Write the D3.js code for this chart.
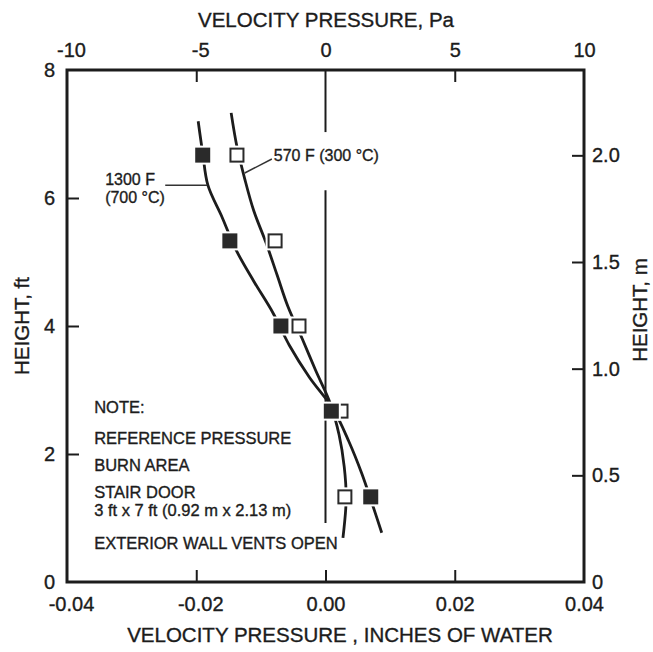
<!DOCTYPE html>
<html>
<head>
<meta charset="utf-8">
<script src="https://cdn.jsdelivr.net/npm/d3@7"></script>
<style>
  html, body { margin: 0; padding: 0; background: #ffffff; }
  svg { display: block; }
  text { font-family: "Liberation Sans", Arial, Helvetica, sans-serif; fill: #1c1c1c; stroke: #1c1c1c; stroke-width: 0.35px; }
</style>
</head>
<body>
<svg id="chart" width="653" height="652"></svg>
<script>
// ---------- data ----------
const heightsFt = [6.67, 5.33, 4.0, 2.67, 1.33];
const vp1300 = [-0.0190, -0.0148, -0.0069, 0.0009, 0.0070];   // filled squares, in. of water
const vp570  = [-0.0137, -0.0078, -0.0041, 0.0024, 0.0030];   // open squares, in. of water

// fitted curves
const fitH1300 = [7.2, 6.7, 6.2, 5.7, 5.2, 4.7, 4.2, 3.7, 3.2, 2.7, 2.2, 1.7, 1.2, 0.77];
const fitV1300 = [-0.0197, -0.0190, -0.0182, -0.0160, -0.0139, -0.0111, -0.0081, -0.0056, -0.0025, 0.0012, 0.0036, 0.0056, 0.0073, 0.0087];
const fitH570  = [7.33, 6.8, 6.3, 5.8, 5.3, 4.8, 4.3, 3.8, 3.3, 2.8, 2.3, 1.8, 1.3, 0.69];
const fitV570  = [-0.0146, -0.0137, -0.0125, -0.0111, -0.0092, -0.0075, -0.0058, -0.0036, -0.0015, 0.0007, 0.0021, 0.0029, 0.0032, 0.0027];

// zero reference line segments (ft)
const zeroSegments = [[8, 7.03], [6.12, 0.92]];

const bottomTicks = [-0.04, -0.02, 0, 0.02, 0.04];
const bottomLabels = ["-0.04", "-0.02", "0.00", "0.02", "0.04"];
const topTicks = [-10, -5, 0, 5, 10];
const topLabels = ["-10", "-5", "0", "5", "10"];
const leftTicks = [0, 2, 4, 6, 8];
const leftLabels = ["0", "2", "4", "6", "8"];
const rightTicks = [0, 0.5, 1.0, 1.5, 2.0];
const rightLabels = ["0", "0.5", "1.0", "1.5", "2.0"];

const noteLines = ["NOTE:", "REFERENCE PRESSURE", "BURN AREA", "STAIR DOOR", "3 ft x 7 ft (0.92 m x 2.13 m)", "EXTERIOR WALL VENTS OPEN"];

// ---------- layout ----------
const X0 = 67, X1 = 584, Y0 = 582, Y1 = 70;
const ink = "#1c1c1c";

const svg = d3.select("#chart");
svg.append("rect").attr("width", 653).attr("height", 652).attr("fill", "#fff");

const x = d3.scaleLinear().domain([-0.04, 0.04]).range([X0, X1]);
const xPa = d3.scaleLinear().domain([-10, 10]).range([X0, X1]);
const y = d3.scaleLinear().domain([0, 8]).range([Y0, Y1]);
const yM = d3.scaleLinear().domain([0, 2.4]).range([Y0, Y1]);

const TICK = 12;

const gB = svg.append("g").attr("transform", `translate(0,${Y0})`)
  .call(d3.axisBottom(x).tickValues(bottomTicks).tickSizeInner(-TICK).tickSizeOuter(0).tickPadding(15)
    .tickFormat((d, i) => bottomLabels[i]));
const gT = svg.append("g").attr("transform", `translate(0,${Y1})`)
  .call(d3.axisTop(xPa).tickValues(topTicks).tickSizeInner(-TICK).tickSizeOuter(0).tickPadding(13)
    .tickFormat((d, i) => topLabels[i]));
const gL = svg.append("g").attr("transform", `translate(${X0},0)`)
  .call(d3.axisLeft(y).tickValues(leftTicks).tickSizeInner(-TICK).tickSizeOuter(0).tickPadding(12)
    .tickFormat((d, i) => leftLabels[i]));
const gR = svg.append("g").attr("transform", `translate(${X1},0)`)
  .call(d3.axisRight(yM).tickValues(rightTicks).tickSizeInner(-TICK).tickSizeOuter(0).tickPadding(8)
    .tickFormat((d, i) => rightLabels[i]));

[gB, gT, gL, gR].forEach(g => {
  g.select(".domain").remove();
  g.selectAll(".tick line").attr("stroke", ink).attr("stroke-width", 2);
  g.selectAll(".tick text").attr("font-size", 20).attr("fill", ink)
    .attr("font-family", '"Liberation Sans", Arial, sans-serif');
});
gB.selectAll(".tick").filter(d => d === -0.04 || d === 0.04).select("line").remove();
gT.selectAll(".tick").filter(d => d === -10 || d === 10 || d === 0).select("line").remove();
gL.selectAll(".tick").filter(d => d === 0 || d === 8).select("line").remove();
gR.selectAll(".tick").filter(d => d === 0).select("line").remove();
gB.selectAll(".tick text").filter(d => d < 0).attr("dx", 4);
gT.selectAll(".tick text").filter(d => d < 0).attr("dx", 4);

// plot box
svg.append("rect").attr("x", X0).attr("y", Y1).attr("width", X1 - X0).attr("height", Y0 - Y1)
  .attr("fill", "none").attr("stroke", ink).attr("stroke-width", 3);

// axis titles
svg.append("text").attr("x", 326).attr("y", 27).attr("text-anchor", "middle")
  .attr("font-size", 20.5).text("VELOCITY PRESSURE,  Pa");
svg.append("text").attr("x", 340).attr("y", 642).attr("text-anchor", "middle")
  .attr("font-size", 20.5).text("VELOCITY PRESSURE , INCHES OF WATER");
svg.append("text").attr("transform", `translate(29,${(Y0 + Y1) / 2}) rotate(-90)`)
  .attr("text-anchor", "middle").attr("font-size", 20.5).text("HEIGHT, ft");
svg.append("text").attr("transform", `translate(647,${y(4.25)}) rotate(-90)`)
  .attr("text-anchor", "middle").attr("font-size", 20.5).text("HEIGHT, m");

// zero reference line
zeroSegments.forEach(s => {
  svg.append("line").attr("x1", x(0)).attr("x2", x(0)).attr("y1", y(s[0])).attr("y2", y(s[1]))
    .attr("stroke", ink).attr("stroke-width", 2);
});

// fitted curves
const line = d3.line().x(d => x(d[0])).y(d => y(d[1])).curve(d3.curveCatmullRom.alpha(0.5));
svg.append("path").datum(fitH1300.map((h, i) => [fitV1300[i], h]))
  .attr("d", line).attr("fill", "none").attr("stroke", ink).attr("stroke-width", 2.8);
svg.append("path").datum(fitH570.map((h, i) => [fitV570[i], h]))
  .attr("d", line).attr("fill", "none").attr("stroke", ink).attr("stroke-width", 2.8);

// data squares with white gap around them
const S = 15, HALO = 4;
function squares(vals, filled) {
  const pts = vals.map((v, i) => [v, heightsFt[i]]);
  svg.append("g").selectAll("rect").data(pts).join("rect")
    .attr("x", d => x(d[0]) - S / 2 - HALO / 2).attr("y", d => y(d[1]) - S / 2 - HALO / 2)
    .attr("width", S + HALO).attr("height", S + HALO).attr("fill", "#fff");
  svg.append("g").selectAll("rect").data(pts).join("rect")
    .attr("x", d => x(d[0]) - S / 2 + (filled ? 0 : 1)).attr("y", d => y(d[1]) - S / 2 + (filled ? 0 : 1))
    .attr("width", filled ? S : S - 2).attr("height", filled ? S : S - 2)
    .attr("fill", filled ? "#2a2a2a" : "#fff")
    .attr("stroke", filled ? "none" : "#2a2a2a").attr("stroke-width", 2);
}
squares(vp570, false);
squares(vp1300, true);

// labels and leaders
svg.append("line").attr("x1", x(-0.0248)).attr("y1", y(6.2)).attr("x2", x(-0.0183)).attr("y2", y(6.2))
  .attr("stroke", "#333").attr("stroke-width", 1.5);
svg.append("line").attr("x1", x(-0.0125)).attr("y1", y(6.39)).attr("x2", x(-0.0083)).attr("y2", y(6.61))
  .attr("stroke", "#333").attr("stroke-width", 1.5);
svg.append("text").attr("x", x(-0.0080)).attr("y", y(6.58)).attr("font-size", 16).text("570 F (300 °C)");
svg.append("text").attr("x", x(-0.0341)).attr("y", y(6.20)).attr("font-size", 16).text("1300 F");
svg.append("text").attr("x", x(-0.0341)).attr("y", y(5.92)).attr("font-size", 16).text("(700 °C)");

// note block
const noteY = [2.64, 2.16, 1.73, 1.31, 1.03, 0.52];
svg.append("g").selectAll("text").data(noteLines).join("text")
  .attr("x", x(-0.0358)).attr("y", (d, i) => y(noteY[i]))
  .attr("font-size", 16.5).text(d => d);
</script>
</body>
</html>
